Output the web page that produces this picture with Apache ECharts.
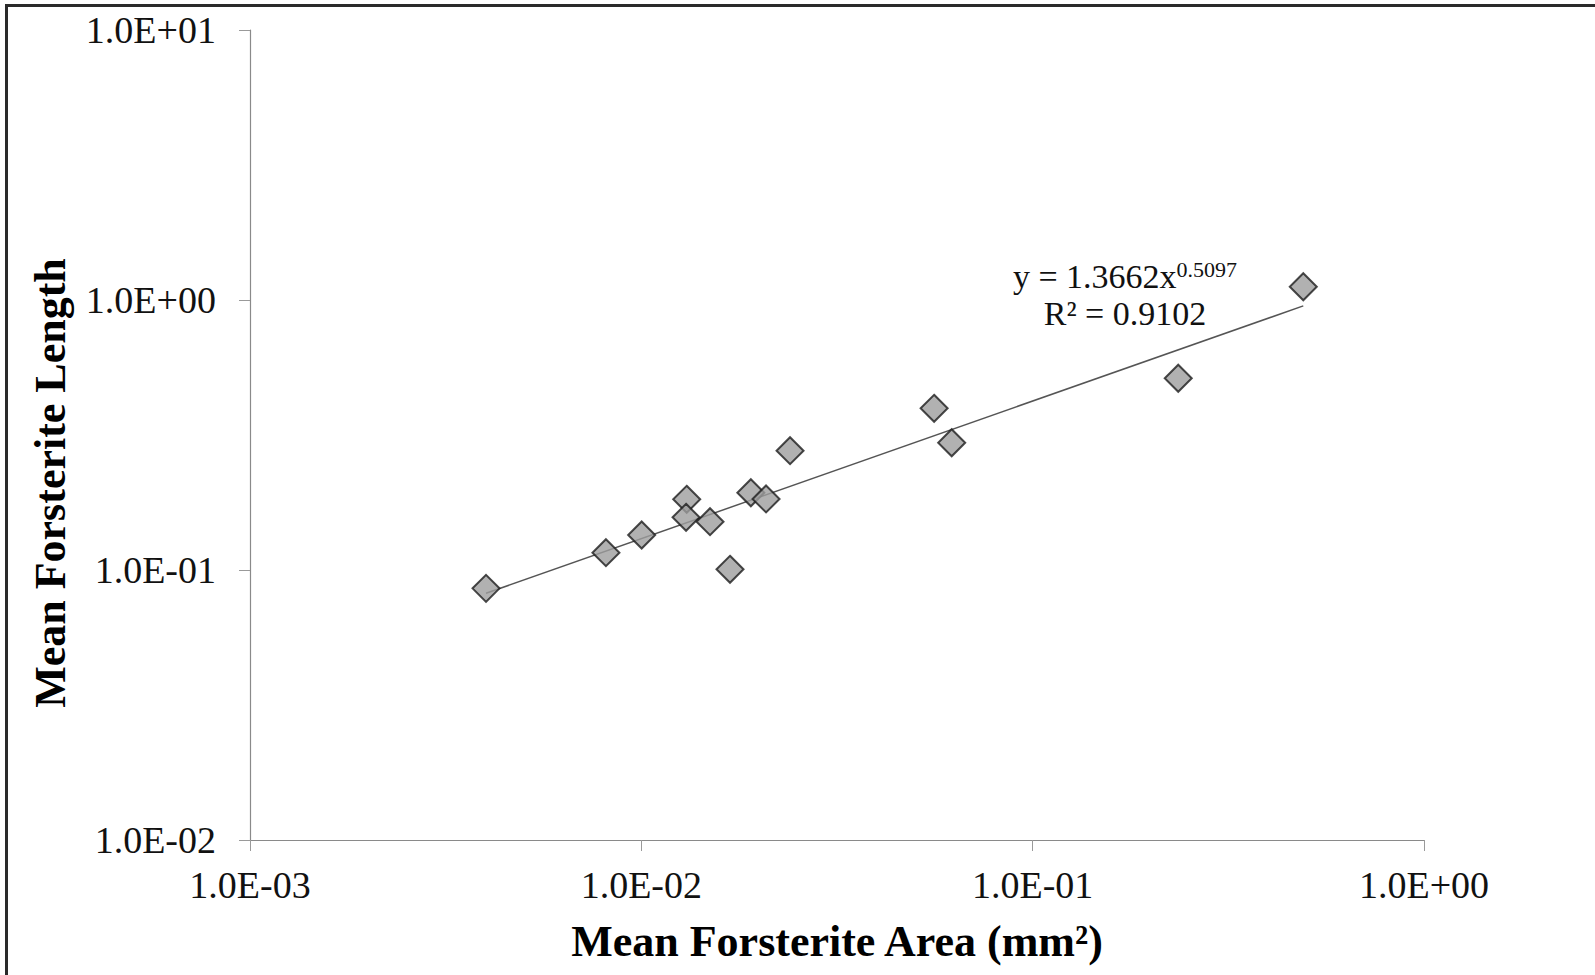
<!DOCTYPE html>
<html>
<head>
<meta charset="utf-8">
<script src="https://cdn.jsdelivr.net/npm/echarts@6/dist/echarts.min.js"></script>
<style>
html,body{margin:0;padding:0;background:#fff;}
#chart{width:1595px;height:975px;}
</style>
</head>
<body>
<div id="chart"></div>
<script>
// Data (mean forsterite area mm², mean forsterite length)
const areaValues = [0.00401, 0.00812, 0.01002, 0.01306, 0.01301, 0.01498, 0.01685, 0.01905, 0.02083, 0.02399, 0.0560, 0.0621, 0.2355, 0.4915];
const lengthValues = [0.0855, 0.1159, 0.1348, 0.1827, 0.1567, 0.151, 0.1006, 0.1933, 0.1833, 0.2766, 0.397, 0.296, 0.513, 1.12];
// Trendline end points (power-law fit, straight on log-log axes)
const trendX = [0.00401, 0.4915];
const trendY = [0.082, 0.951];
const xTickLabels = ['1.0E-03', '1.0E-02', '1.0E-01', '1.0E+00'];
const yTickLabels = ['1.0E-02', '1.0E-01', '1.0E+00', '1.0E+01'];
const xTitle = 'Mean Forsterite Area (mm²)';
const yTitle = 'Mean Forsterite Length';
const eqLine1 = 'y = 1.3662x';
const eqExp = '0.5097';
const eqLine2 = 'R² = 0.9102';

const FONT = '"Liberation Serif", "Times New Roman", serif';
const xMinExp = -3, yMinExp = -2;

const chart = echarts.init(document.getElementById('chart'), null, {renderer: 'svg'});
const scatterData = areaValues.map((v, i) => [v, lengthValues[i]]);
const trendData = trendX.map((v, i) => [v, trendY[i]]);

chart.setOption({
  backgroundColor: '#ffffff',
  animation: false,
  grid: {left: 250, right: 171, top: 30, bottom: 135},
  xAxis: {
    type: 'log', logBase: 10, min: 0.001, max: 1, interval: 1,
    axisLine: {lineStyle: {color: '#8a8a8a', width: 1.2}},
    axisTick: {show: true, length: 11, inside: false, lineStyle: {color: '#9a9a9a'}},
    minorTick: {show: false},
    splitLine: {show: false},
    axisLabel: {
      margin: 26, fontFamily: FONT, fontSize: 38, color: '#111',
      formatter: v => xTickLabels[Math.round(Math.log10(v)) - xMinExp] || ''
    },
    name: xTitle, nameLocation: 'middle', nameGap: 79,
    nameTextStyle: {fontFamily: FONT, fontSize: 44, fontWeight: 'bold', color: '#000'}
  },
  yAxis: {
    type: 'log', logBase: 10, min: 0.01, max: 10, interval: 1,
    axisLine: {show: true, lineStyle: {color: '#8a8a8a', width: 1.2}},
    axisTick: {show: true, length: 11, inside: false, lineStyle: {color: '#9a9a9a'}},
    minorTick: {show: false},
    splitLine: {show: false},
    axisLabel: {
      margin: 34, fontFamily: FONT, fontSize: 38, color: '#111',
      formatter: v => yTickLabels[Math.round(Math.log10(v)) - yMinExp] || ''
    },
    name: yTitle, nameLocation: 'middle', nameGap: 178, nameRotate: 90,
    nameTextStyle: {fontFamily: FONT, fontSize: 44, fontWeight: 'bold', color: '#000', padding: [0, 96, 0, 0]}
  },
  series: [
    {
      type: 'line', data: trendData, symbol: 'none', silent: true,
      lineStyle: {color: '#555', width: 1.5}, z: 1
    },
    {
      type: 'scatter', data: scatterData, symbol: 'diamond', symbolSize: 27,
      itemStyle: {color: '#9e9e9e', borderColor: '#1c1c1c', borderWidth: 2}, z: 2
    }
  ],
  graphic: [
    {
      type: 'rect', silent: true,
      shape: {x: 6.5, y: 5.5, width: 1700, height: 1100},
      style: {fill: 'none', stroke: '#2a2a2a', lineWidth: 3}
    },
    {
      type: 'text', x: 1125, y: 258,
      style: {
        text: '{a|' + eqLine1 + '}{b|' + eqExp + '}\n{a|' + eqLine2 + '}',
        align: 'center', verticalAlign: 'top',
        rich: {
          a: {fontFamily: FONT, fontSize: 34, lineHeight: 37, fill: '#111'},
          b: {fontFamily: FONT, fontSize: 22, lineHeight: 37, fill: '#111', verticalAlign: 'top', padding: [0, 0, 10, 0]}
        }
      }
    }
  ]
});
</script>
</body>
</html>
